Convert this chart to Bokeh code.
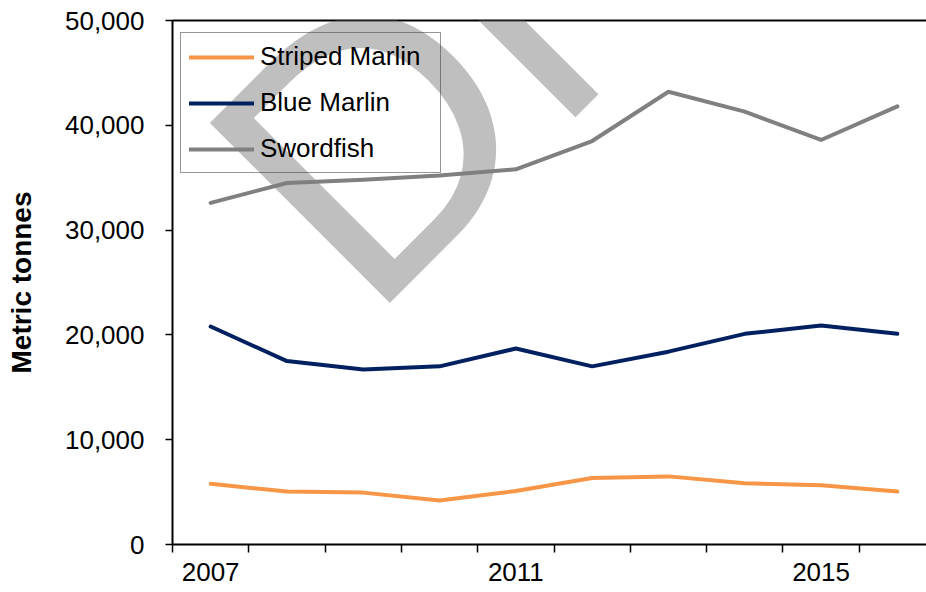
import math
from bokeh.plotting import figure
from bokeh.models import (Range1d, FixedTicker, NumeralTickFormatter, LinearAxis,
                          Label, BasicTickFormatter)
from bokeh.embed import file_html
from bokeh.resources import INLINE

years = [2007, 2008, 2009, 2010, 2011, 2012, 2013, 2014, 2015, 2016]
striped_marlin = [5800, 5050, 4950, 4200, 5100, 6350, 6500, 5850, 5650, 5050]
blue_marlin = [20800, 17500, 16700, 17000, 18700, 17000, 18400, 20100, 20900, 20100]
swordfish = [32600, 34500, 34800, 35200, 35800, 38500, 43200, 41300, 38600, 41800]
y_ticks = [0, 10000, 20000, 30000, 40000, 50000]
x_label_years = [2007, 2011, 2015]

FONT = "Liberation Sans"
W, H = 926, 592
px_per_year = 76.3
frame_left = 172
frame_top = 20
frame_bottom_border = 48
frame_w = W - frame_left
frame_h = H - frame_top - frame_bottom_border

p = figure(width=W, height=H, output_backend="svg", toolbar_location=None,
           x_range=Range1d(years[0] - 0.5, years[0] - 0.5 + frame_w / px_per_year),
           y_range=Range1d(0, 50000),
           min_border_left=frame_left, min_border_right=0,
           min_border_top=frame_top, min_border_bottom=frame_bottom_border)
p.outline_line_color = None
p.xgrid.visible = False
p.ygrid.visible = False
p.background_fill_color = "white"
p.border_fill_color = "white"

# lines
p.line(years, striped_marlin, line_color="#F79646", line_width=4,
       line_cap="round", line_join="round", legend_label="Striped Marlin")
p.line(years, blue_marlin, line_color="#002060", line_width=4,
       line_cap="round", line_join="round", legend_label="Blue Marlin")
p.line(years, swordfish, line_color="#808080", line_width=4,
       line_cap="round", line_join="round", legend_label="Swordfish")

# y axis
ya = p.yaxis[0]
ya.ticker = FixedTicker(ticks=y_ticks)
ya.formatter = NumeralTickFormatter(format="0,0")
ya.major_label_text_font = FONT
ya.major_label_text_font_size = "26px"
ya.major_label_text_color = "black"
ya.major_label_standoff = 21
ya.major_tick_out = 7
ya.major_tick_in = 0
ya.major_tick_line_width = 1.5
ya.major_tick_line_color = "black"
ya.minor_tick_line_color = None
ya.axis_line_width = 2
ya.axis_line_color = "black"
ya.axis_label = "Metric tonnes"
ya.axis_label_text_font = FONT
ya.axis_label_text_font_size = "28px"
ya.axis_label_text_font_style = "bold"
ya.axis_label_text_color = "black"
ya.axis_label_standoff = 25

# x axis
xa = p.xaxis[0]
bounds = [y - 0.5 for y in years] + [years[-1] + 0.5]
xa.ticker = FixedTicker(ticks=x_label_years, minor_ticks=bounds)
xa.formatter = BasicTickFormatter(use_scientific=False)
xa.major_label_text_font = FONT
xa.major_label_text_font_size = "26px"
xa.major_label_text_color = "black"
xa.major_label_standoff = 10
xa.major_tick_line_color = None
xa.major_tick_out = 8
xa.major_tick_in = 0
xa.minor_tick_out = 8
xa.minor_tick_in = 0
xa.minor_tick_line_color = "black"
xa.minor_tick_line_width = 1.5
xa.axis_line_width = 2
xa.axis_line_color = "black"

# top border line
top = LinearAxis(ticker=FixedTicker(ticks=[]), axis_line_width=2, axis_line_color="black",
                 major_tick_line_color=None, minor_tick_line_color=None,
                 major_label_text_font_size="0px")
p.add_layout(top, "above")

# legend
lg = p.legend[0]
lg.location = (8, frame_h - 14 - 139)
lg.label_text_font = FONT
lg.label_text_font_size = "26px"
lg.label_text_color = "black"
lg.label_text_baseline = "middle"
lg.glyph_width = 65
lg.glyph_height = 30
lg.label_height = 30
lg.label_width = 172
lg.label_standoff = 6
lg.spacing = 15
lg.padding = 8
lg.margin = 0
lg.border_line_color = "#303030"
lg.border_line_width = 1
lg.background_fill_color = "white"
lg.background_fill_alpha = 0

# watermark (screen units are relative to the plot frame)
p.add_layout(Label(x=277 - frame_left, y=(H - frame_bottom_border) - 233,
                   x_units="screen", y_units="screen", level="overlay",
                   text="Draft", angle=math.pi / 4, text_align="left",
                   text_baseline="alphabetic", text_font=FONT,
                   text_font_size="370px", text_color="#7f7f7f", text_alpha=0.5))

open("out.html", "w").write(file_html(p, INLINE))
